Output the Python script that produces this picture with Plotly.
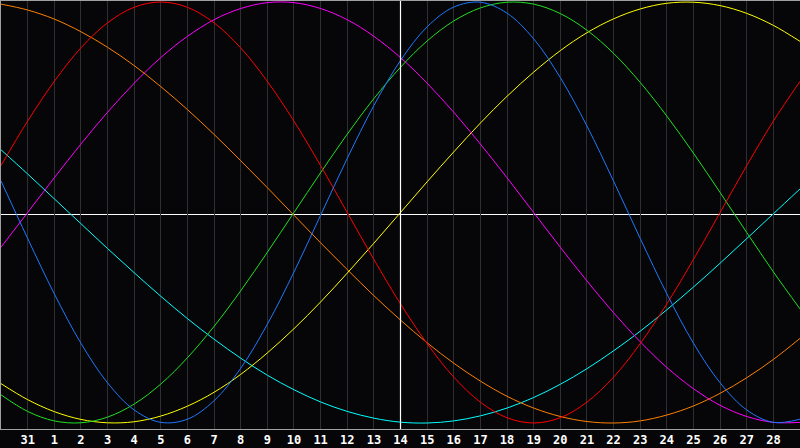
import plotly.graph_objects as go

# day index along the chart (gridline k sits at day index k)
day_index = list(range(31))
tick_index = list(range(1, 30))
tick_labels = ["31"] + [str(d) for d in range(1, 29)]

physical = [0.15, -0.123, -0.386, -0.621, -0.809, -0.938, -0.997, -0.982, -0.894, -0.74, -0.531,
            -0.283, -0.013, 0.257, 0.508, 0.722, 0.882, 0.976, 0.999, 0.947, 0.825,
            0.641, 0.411, 0.149, -0.123, -0.386, -0.621, -0.809, -0.938, -0.997, -0.982]
emotional = [0.223, 0.434, 0.623, 0.782, 0.901, 0.975, 1.0, 0.975, 0.901, 0.782, 0.623,
             0.434, 0.223, 0.0, -0.223, -0.434, -0.623, -0.782, -0.901, -0.975, -1.0,
             -0.975, -0.901, -0.782, -0.623, -0.434, -0.223, 0.0, 0.223, 0.434, 0.623]
intellectual = [-0.866, -0.945, -0.99, -0.999, -0.972, -0.91, -0.815, -0.69, -0.541, -0.372, -0.189,
                0.0, 0.189, 0.372, 0.541, 0.69, 0.815, 0.91, 0.972, 0.999, 0.99,
                0.945, 0.866, 0.756, 0.618, 0.458, 0.282, 0.095, -0.095, -0.282, -0.458]
intuitive = [-0.165, 0.0, 0.165, 0.325, 0.476, 0.614, 0.736, 0.837, 0.916, 0.969, 0.997,
             0.997, 0.969, 0.916, 0.837, 0.736, 0.614, 0.476, 0.325, 0.165, 0.0,
             -0.165, -0.325, -0.476, -0.614, -0.736, -0.837, -0.916, -0.969, -0.997, -0.997]
aesthetic = [-0.813, -0.889, -0.946, -0.983, -0.999, -0.994, -0.967, -0.92, -0.854, -0.769, -0.667,
             -0.552, -0.425, -0.288, -0.146, 0.0, 0.146, 0.288, 0.425, 0.552, 0.667,
             0.769, 0.854, 0.92, 0.967, 0.994, 0.999, 0.983, 0.946, 0.889, 0.813]
awareness = [0.99, 0.962, 0.919, 0.859, 0.785, 0.698, 0.598, 0.489, 0.371, 0.246, 0.118,
             -0.013, -0.144, -0.271, -0.395, -0.511, -0.619, -0.716, -0.801, -0.873, -0.929,
             -0.969, -0.993, -1.0, -0.99, -0.962, -0.919, -0.859, -0.785, -0.698, -0.598]
spiritual = [0.298, 0.183, 0.065, -0.053, -0.171, -0.286, -0.398, -0.504, -0.602, -0.692, -0.773,
             -0.842, -0.9, -0.945, -0.977, -0.996, -1.0, -0.99, -0.966, -0.929, -0.879,
             -0.816, -0.742, -0.657, -0.564, -0.462, -0.354, -0.241, -0.124, -0.006, 0.112]

today_index = 15

series = [
    ("Spiritual", spiritual, "#00ffff"),
    ("Awareness", awareness, "#ff8000"),
    ("Aesthetic", aesthetic, "#ffff00"),
    ("Intuitive", intuitive, "#ff00ff"),
    ("Intellectual", intellectual, "#20e020"),
    ("Emotional", emotional, "#ff0000"),
    ("Physical", physical, "#1e78ff"),
]

fig = go.Figure()
for name, vals, color in series:
    fig.add_trace(go.Scatter(x=day_index, y=vals, name=name, mode="lines",
                             line=dict(color=color, width=1, shape="spline", smoothing=1.0),
                             hoverinfo="skip"))

bg = "#060609"
fig.update_layout(
    width=800, height=448,
    margin=dict(l=1, r=0, t=1, b=19),
    paper_bgcolor=bg, plot_bgcolor=bg,
    showlegend=False,
    xaxis=dict(range=[0, 30], tickmode="array", tickvals=tick_index, ticktext=tick_labels,
               showgrid=True, gridcolor="#2e2e33", gridwidth=1, zeroline=False,
               showline=True, linecolor="#a0a0a0", linewidth=1, mirror=True,
               ticks="", tickfont=dict(family="DejaVu Sans Mono", size=12, color="white", weight="bold"),
               fixedrange=True),
    yaxis=dict(range=[-1.0285, 1.0048], showgrid=False, zeroline=False, showticklabels=False,
               showline=True, linecolor="#a0a0a0", linewidth=1, mirror=True, fixedrange=True),
    shapes=[
        dict(type="line", xref="paper", yref="paper", x0=0, x1=1, y0=0.50117, y1=0.50117,
             line=dict(color="white", width=1), layer="between"),
        dict(type="line", xref="x", yref="paper", x0=today_index, x1=today_index, y0=0, y1=1,
             line=dict(color="white", width=1.2), layer="above"),
    ],
)

fig.write_html("out.html", config={"displayModeBar": False},
               post_script="document.body.style.margin='0';document.body.style.overflow='hidden';document.body.style.background='#060609';")
